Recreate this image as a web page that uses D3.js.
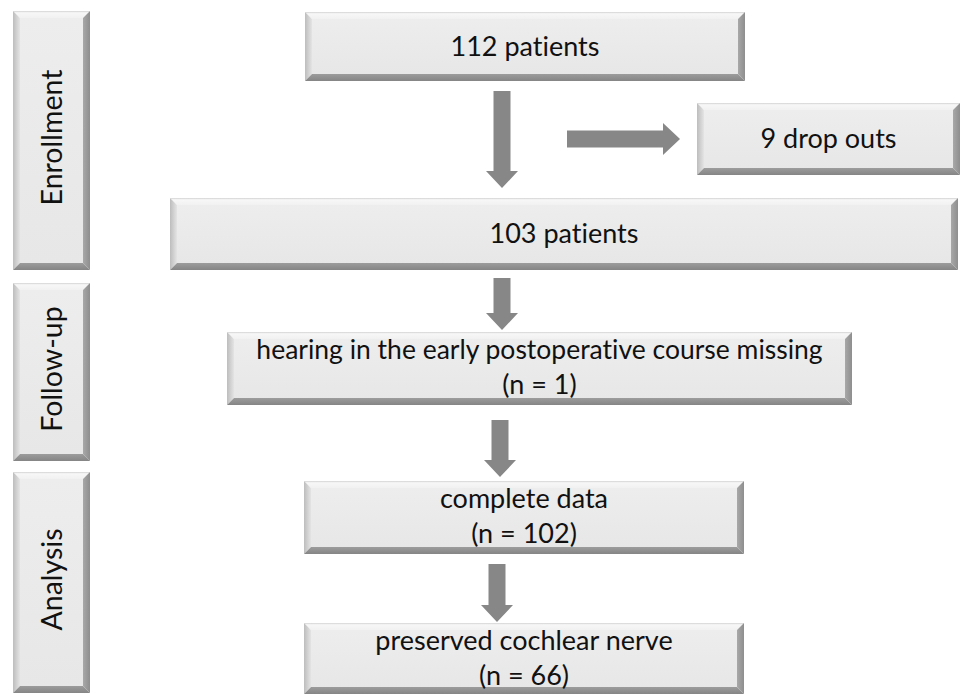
<!DOCTYPE html>
<html>
<head>
<meta charset="utf-8">
<script src="https://cdn.jsdelivr.net/npm/d3@7"></script>
<style>
  body { margin: 0; background: #fff; }
  svg { display: block; font-family: Lato, "Open Sans", sans-serif; font-variant-ligatures: none; }
</style>
</head>
<body>
<svg id="chart" width="960" height="694"></svg>
<script>
// study phases (left column)
const phases = ["Enrollment", "Follow-up", "Analysis"];

// flow steps
const stepLabels = [
  "112 patients",
  "9 drop outs",
  "103 patients",
  "hearing in the early postoperative course missing",
  "complete data",
  "preserved cochlear nerve"
];
const stepCounts = [null, null, null, 1, 102, 66];

// arrows: from step -> to step
const links = [[0, 2], [0, 1], [2, 3], [3, 4], [4, 5]];

// ---- layout (pixels) ----
const phaseLayout = [
  {x: 13, y: 11,  w: 77, h: 259},
  {x: 13, y: 283, w: 77, h: 178},
  {x: 13, y: 472, w: 77, h: 221}
];
const stepLayout = [
  {x: 305, y: 12,  w: 440, h: 69},
  {x: 697, y: 103, w: 263, h: 72},
  {x: 170, y: 198, w: 788, h: 72},
  {x: 227, y: 332, w: 625, h: 73},
  {x: 304, y: 481, w: 440, h: 73},
  {x: 304, y: 623, w: 440, h: 71}
];
const arrowLayout = [
  {x1: 502, y1: 91,  x2: 502, y2: 188},
  {x1: 567, y1: 139, x2: 680, y2: 139},
  {x1: 502, y1: 278, x2: 502, y2: 330},
  {x1: 500, y1: 420, x2: 500, y2: 477},
  {x1: 497, y1: 564, x2: 497, y2: 622}
];

const svg = d3.select("#chart");
const defs = svg.append("defs");

// bevel gradients
function grad(id, x2, y2, stops) {
  const g = defs.append("linearGradient")
    .attr("id", id)
    .attr("x1", 0).attr("y1", 0)
    .attr("x2", x2).attr("y2", y2);
  stops.forEach(s => g.append("stop").attr("offset", s[0]).attr("stop-color", s[1]));
}
grad("bv-top",   0, 1, [[0, "#d2d2d2"], [0.25, "#f7f7f7"], [1, "#f1f1f1"]]);
grad("bv-left",  1, 0, [[0, "#bdbdbd"], [1, "#e4e4e4"]]);
grad("bv-right", 1, 0, [[0, "#a8a8a8"], [1, "#8e8e8e"]]);
grad("bv-bot",   0, 1, [[0, "#9c9c9c"], [1, "#858585"]]);
grad("face",     0, 1, [[0, "#ededed"], [1, "#e7e7e7"]]);

function bevelBox(g, b, bw) {
  const x0 = b.x, y0 = b.y, x1 = b.x + b.w, y1 = b.y + b.h;
  const line = d3.line();
  g.append("rect")
    .attr("x", x0 + bw).attr("y", y0 + bw)
    .attr("width", b.w - 2 * bw).attr("height", b.h - 2 * bw)
    .attr("fill", "url(#face)");
  g.append("path")
    .attr("d", line([[x0, y0], [x1, y0], [x1 - bw, y0 + bw], [x0 + bw, y0 + bw]]) + "Z")
    .attr("fill", "url(#bv-top)");
  g.append("path")
    .attr("d", line([[x0, y0], [x0 + bw, y0 + bw], [x0 + bw, y1 - bw], [x0, y1]]) + "Z")
    .attr("fill", "url(#bv-left)");
  g.append("path")
    .attr("d", line([[x1, y0], [x1, y1], [x1 - bw, y1 - bw], [x1 - bw, y0 + bw]]) + "Z")
    .attr("fill", "url(#bv-right)");
  g.append("path")
    .attr("d", line([[x0, y1], [x0 + bw, y1 - bw], [x1 - bw, y1 - bw], [x1, y1]]) + "Z")
    .attr("fill", "url(#bv-bot)");
}

// phase boxes
const phaseG = svg.selectAll("g.phase")
  .data(phases)
  .enter().append("g")
    .attr("class", "phase");

phaseG.each(function(d, i) { bevelBox(d3.select(this), phaseLayout[i], 7); });

phaseG.append("text")
  .attr("transform", (d, i) => {
    const b = phaseLayout[i];
    return `translate(${b.x + b.w / 2 + 10}, ${b.y + b.h / 2 - 3}) rotate(-90)`;
  })
  .attr("text-anchor", "middle")
  .attr("font-size", 28.5)
  .attr("fill", "#111")
  .text(d => d);

// arrows
const shaft = 8.5, head = 16, headLen = 17;
function arrowPath(a) {
  const dx = a.x2 - a.x1, dy = a.y2 - a.y1;
  const len = Math.hypot(dx, dy);
  const ux = dx / len, uy = dy / len, px = -uy, py = ux;
  const bx = a.x2 - ux * headLen, by = a.y2 - uy * headLen;
  const pts = [
    [a.x1 + px * shaft, a.y1 + py * shaft],
    [bx + px * shaft, by + py * shaft],
    [bx + px * head, by + py * head],
    [a.x2, a.y2],
    [bx - px * head, by - py * head],
    [bx - px * shaft, by - py * shaft],
    [a.x1 - px * shaft, a.y1 - py * shaft]
  ];
  return d3.line()(pts) + "Z";
}

svg.selectAll("path.arrow")
  .data(links)
  .enter().append("path")
    .attr("class", "arrow")
    .attr("d", (d, i) => arrowPath(arrowLayout[i]))
    .attr("fill", "#878787");

// step boxes
const stepG = svg.selectAll("g.step")
  .data(stepLabels)
  .enter().append("g")
    .attr("class", "step");

stepG.each(function(d, i) { bevelBox(d3.select(this), stepLayout[i], 7); });

stepG.each(function(d, i) {
  const b = stepLayout[i];
  const g = d3.select(this);
  const cx = b.x + b.w / 2;
  const fs = d.length > 30 ? 26.5 : 27;
  const lines = stepCounts[i] == null ? [d] : [d, `(n = ${stepCounts[i]})`];
  const ys = lines.length === 1 ? [b.y + b.h / 2 + 9] : [b.y + 27, b.y + 62];
  lines.forEach((t, j) => {
    g.append("text")
      .attr("x", cx)
      .attr("y", ys[j])
      .attr("text-anchor", "middle")
      .attr("font-size", j === 0 ? fs : 27)
      .attr("fill", "#111")
      .text(t);
  });
});
</script>
</body>
</html>
